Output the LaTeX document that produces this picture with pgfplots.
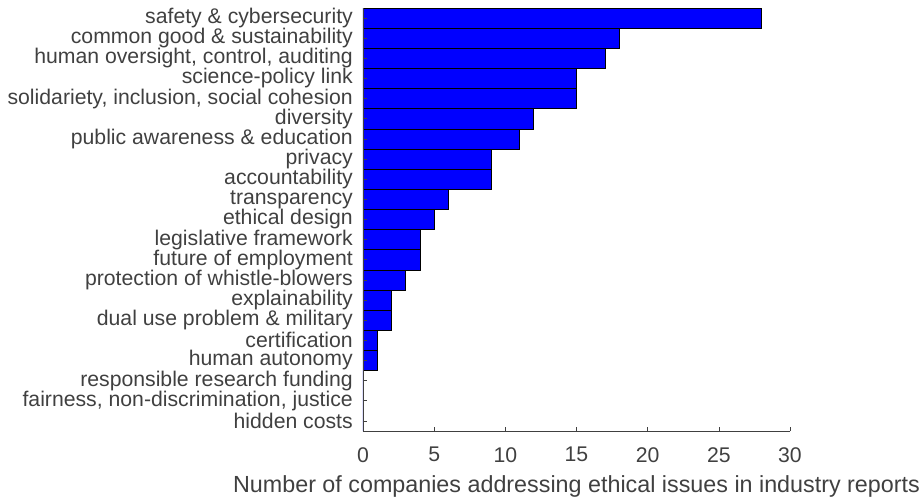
\documentclass[border=0pt]{standalone}
\usepackage{pgfplots}
\pgfplotsset{compat=1.18}
\usepackage{fontspec}
\setmainfont{Liberation Sans}
\definecolor{axgray}{rgb}{0.25,0.25,0.25}
\begin{document}
\begin{tikzpicture}[x=1bp,y=1bp]
\useasboundingbox (-363bp,-67bp) rectangle (560bp,431bp);
\begin{axis}[
  at={(0,0)}, anchor=south west,
  scale only axis, width=427bp, height=423bp,
  xbar, bar width=1,
  xmin=0, xmax=30, ymin=0.5, ymax=21.5,
  y dir=reverse,
  axis x line*=bottom, axis y line*=left,
  axis line style={axgray, line width=0.6pt},
  tick style={axgray, line width=0.6pt},
  tick align=inside,
  major tick length=4bp,
  xtick={0,5,10,15,20,25,30},
  ytick={1,...,21},
  yticklabels={safety \& cybersecurity, common good \& sustainability, {human oversight, control, auditing}, science-policy link, {solidariety, inclusion, social cohesion}, diversity, public awareness \& education, privacy, accountability, transparency, ethical design, legislative framework, future of employment, protection of whistle-blowers, explainability, dual use problem \& military, certification, human autonomy, responsible research funding, {fairness, non-discrimination, justice}, hidden costs},
  ticklabel style={font=\fontsize{21.3}{22}\selectfont, text=axgray},
  yticklabel style={inner sep=0pt, xshift=-10bp},
  xticklabel style={/pgf/number format/assume math mode=true, inner sep=0pt, anchor=north, yshift=-16bp},
  xlabel={Number of companies addressing ethical issues in industry reports},
  xlabel style={font=\fontsize{23.4}{25}\selectfont, text=axgray, inner sep=0pt, anchor=base, at={(axis description cs:0.5,0)}, yshift=-61bp},
  axis on top,
]
\addplot[fill={rgb,1:red,0;green,0;blue,1}, draw=black, line width=0.6pt] coordinates {
 (28,1) (18,2) (17,3) (15,4) (15,5) (12,6) (11,7) (9,8) (9,9) (6,10) (5,11) (4,12) (4,13) (3,14) (2,15) (2,16) (1,17) (1,18) (0,19) (0,20) (0,21)
};
\end{axis}
\end{tikzpicture}
\end{document}
